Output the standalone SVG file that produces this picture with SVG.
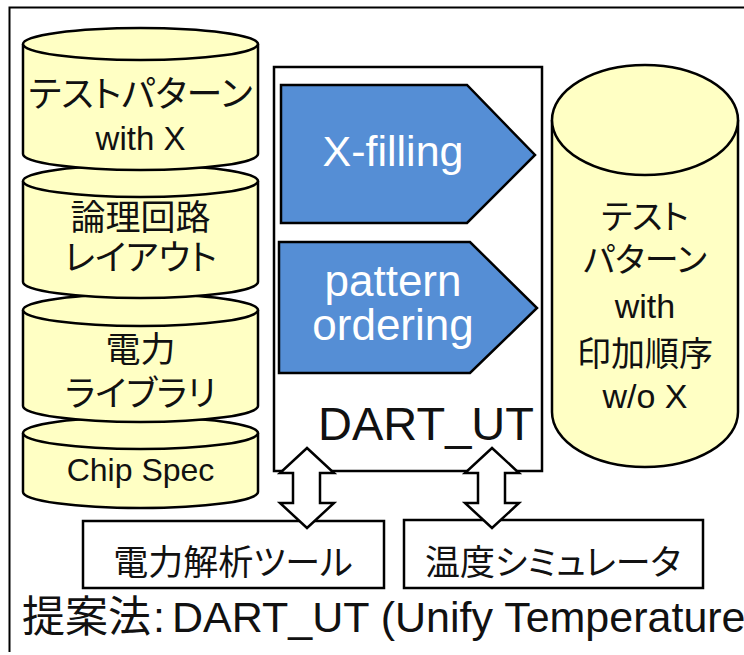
<svg xmlns="http://www.w3.org/2000/svg" width="744" height="655" viewBox="0 0 744 655">
<style>
.cyl{fill:#FFFFC4;stroke:#000;stroke-width:2.5}
.jp{font-family:"Noto Sans CJK JP",sans-serif;font-feature-settings:"palt";fill:#111;text-anchor:middle}
.lat{font-family:"Liberation Sans","Noto Sans CJK JP",sans-serif;fill:#111;text-anchor:middle}
.wt{font-family:"Liberation Sans",sans-serif;fill:#fff;text-anchor:middle}
.proc{fill:#558ED5;stroke:#000;stroke-width:2.5}
.box{fill:#fff;stroke:#000;stroke-width:2.5}
.arr{fill:#fff;stroke:#000;stroke-width:2.5;stroke-linejoin:miter}
</style>
<rect x="0" y="0" width="744" height="655" fill="#fff"/>
<path d="M9.5,652 V7.5 H744" fill="none" stroke="#000" stroke-width="2"/>

<g id="cyl-chipspec">
<path class="cyl" d="M23,433 A117.5,16 0 0 1 258,433 V492 A117.5,16 0 0 1 23,492 Z"/>
<path class="cyl" fill="none" d="M23,433 A117.5,16 0 0 0 258,433"/>
<text class="lat" x="140.5" y="481" font-size="32">Chip Spec</text>
</g>
<g id="cyl-library">
<path class="cyl" d="M23,310 A117.5,16 0 0 1 258,310 V406 A117.5,16 0 0 1 23,406 Z"/>
<path class="cyl" fill="none" d="M23,310 A117.5,16 0 0 0 258,310"/>
<text class="jp" x="140.5" y="362" font-size="35">電力</text>
<text class="jp" x="140.5" y="406" font-size="35">ライブラリ</text>
</g>
<g id="cyl-layout">
<path class="cyl" d="M23,181 A117.5,16 0 0 1 258,181 V282 A117.5,16 0 0 1 23,282 Z"/>
<path class="cyl" fill="none" d="M23,181 A117.5,16 0 0 0 258,181"/>
<text class="jp" x="140.5" y="230" font-size="35">論理回路</text>
<text class="jp" x="140.5" y="270" font-size="35">レイアウト</text>
</g>
<g id="cyl-testpattern">
<path class="cyl" d="M23,44 A117.5,16 0 0 1 258,44 V154 A117.5,16 0 0 1 23,154 Z"/>
<path class="cyl" fill="none" d="M23,44 A117.5,16 0 0 0 258,44"/>
<text class="jp" x="140.5" y="107" font-size="36">テストパターン</text>
<text class="lat" x="140.5" y="150" font-size="33">with X</text>
</g>

<g id="dart-ut">
<rect class="box" x="274" y="67" width="268" height="404"/>
<text class="lat" x="426" y="440" font-size="47">DART_UT</text>
</g>
<g id="x-filling">
<polygon class="proc" points="281,85 467,85 535,155 467,223 281,223"/>
<text class="wt" x="393" y="166" font-size="43">X-filling</text>
</g>
<g id="pattern-ordering">
<polygon class="proc" points="279,242 470,242 537,308 470,373 279,373"/>
<text class="wt" x="393" y="296" font-size="44">pattern</text>
<text class="wt" x="393" y="340" font-size="44">ordering</text>
</g>

<g id="cyl-output">
<path class="cyl" d="M552,120 A93,55 0 0 1 738,120 V412 A93,55 0 0 1 552,412 Z"/>
<path class="cyl" fill="none" d="M552,120 A93,55 0 0 0 738,120"/>
<text class="jp" x="645" y="229" font-size="34">テスト</text>
<text class="jp" x="645" y="272" font-size="34">パターン</text>
<text class="lat" x="645" y="318" font-size="34">with</text>
<text class="jp" x="645" y="366" font-size="34">印加順序</text>
<text class="lat" x="645" y="408" font-size="34">w/o X</text>
</g>

<g id="power-tool">
<rect class="box" x="83" y="521" width="301" height="67"/>
<text class="jp" x="233" y="575" font-size="35">電力解析ツール</text>
</g>
<g id="thermal-sim">
<rect class="box" x="404" y="520" width="299" height="68"/>
<text class="jp" x="553" y="575" font-size="35">温度シミュレータ</text>
</g>

<g id="connectors">
<polygon class="arr" points="307,448 334,473 320,473 320,503 334,503 307,528 280,503 293,503 293,473 280,473"/>
<polygon class="arr" points="492,448 519,473 505,473 505,503 519,503 492,528 465,503 478,503 478,473 465,473"/>
</g>

<text x="22" y="632" font-size="43" font-family="Liberation Sans,Noto Sans CJK JP,sans-serif" fill="#111">提案法<tspan x="153">:</tspan><tspan x="172">DART_UT (Unify Temperature</tspan></text>
</svg>
